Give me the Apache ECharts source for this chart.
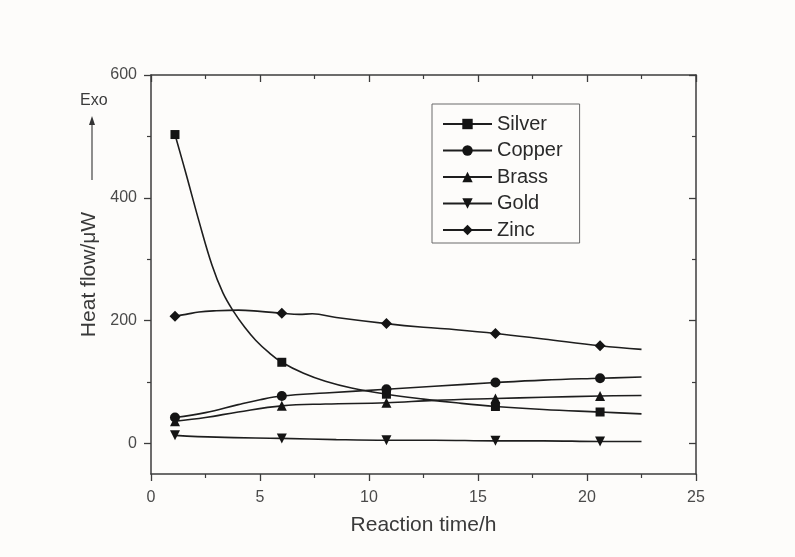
<!DOCTYPE html>
<html>
<head>
<meta charset="utf-8">
<script src="https://cdn.jsdelivr.net/npm/echarts@6/dist/echarts.min.js"></script>
<style>
html,body{margin:0;padding:0;background:#fdfcfa;}
#main{width:795px;height:557px;}
</style>
</head>
<body>
<div id="main"></div>
<script>
// ---- data ----
var markerTimes = [1.1, 6.0, 10.8, 15.8, 20.6];
var silver = [[1.1,503],[1.6,440],[2.2,362],[2.8,290],[3.3,245],[3.8,214],[4.3,189],[4.8,168],[5.4,148],[6.0,132],[7.0,114],[8.0,101],[9.2,90],[10.8,80],[12.5,72],[14,66],[15.8,60],[18,55],[20.6,51],[22.5,48]];
var copper = [[1.1,42],[2.5,50],[4,63],[5,71],[6.0,77],[8,82],[10.8,88],[13,93],[15.8,99],[18,103],[20.6,106],[22.5,108]];
var brass  = [[1.1,36],[2.5,42],[4,51],[6.0,61],[8,64],[10.8,66],[13,70],[15.8,73],[18,75],[20.6,77],[22.5,78]];
var gold   = [[1.1,13],[3,10],[6.0,8],[8.5,6],[10.8,5],[13,5],[15.8,4],[18,4],[20.6,3],[22.5,3]];
var zinc   = [[1.1,207],[1.6,210],[2.2,214],[3.0,216],[4.0,217],[5.0,215],[6.0,212],[6.8,210],[7.4,211],[8.5,205],[10.8,195],[12.5,189],[14,185],[15.8,179],[18,170],[20.6,159],[22.5,153]];
var seriesNames = ['Silver','Copper','Brass','Gold','Zinc'];
var yMajorTicks = [0, 200, 400, 600];
var yMinorTicks = [100, 300, 500];

var symbols = ['rect','circle','triangle','path://M0,0 L10,0 L5,10 Z','diamond'];
var symbolSizes = [9, 10, 10, 10, 11];
var datasets = [silver, copper, brass, gold, zinc];

function build(d){
  return d.map(function(p){
    var isMarker = markerTimes.indexOf(p[0]) >= 0;
    return isMarker ? {value:p} : {value:p, symbol:'none'};
  });
}

var axisColor = '#3c3c3c';
var font = '"Liberation Sans", Arial, sans-serif';
var gridRect = {left:151, right:99, top:75, bottom:83};

var series = seriesNames.map(function(n,i){
  return {
    name:n, type:'line', xAxisIndex:0, yAxisIndex:0,
    data: build(datasets[i]),
    smooth: 0.4,
    symbol: symbols[i], symbolSize: symbolSizes[i], symbolKeepAspect:true,
    showAllSymbol:true,
    lineStyle:{color:'#1e1e1e', width:1.6},
    itemStyle:{color:'#141414'},
    emphasis:{disabled:true},
    z: 3
  };
});

var chart = echarts.init(document.getElementById('main'), null, {renderer:'canvas'});
chart.setOption({
  backgroundColor:'#fdfcfa',
  animation:false,
  textStyle:{fontFamily:font},
  grid:[
    Object.assign({}, gridRect),
    Object.assign({}, gridRect),
    Object.assign({}, gridRect)
  ],
  legend:{
    data: seriesNames,
    orient:'vertical',
    left:432, top:104,
    itemWidth:49, itemHeight:13,
    itemGap:6.5,
    padding:[10,17,3,10],
    borderColor:'#6a6a6a', borderWidth:1,
    textStyle:{fontSize:20, color:'#2a2a2a', fontFamily:font, padding:[0,0,0,0]},
    selectedMode:false
  },
  xAxis:[
    {gridIndex:0, type:'value', min:0, max:25, interval:5, position:'bottom',
     name:'Reaction time/h', nameLocation:'middle', nameGap:41,
     nameTextStyle:{fontSize:21, color:'#3a3a3a', fontFamily:font},
     axisLine:{show:true, onZero:false, lineStyle:{color:axisColor, width:1.5}},
     axisTick:{show:true, inside:false, length:7, lineStyle:{color:axisColor, width:1.3}},
     minorTick:{show:true, splitNumber:2, length:4, lineStyle:{color:axisColor, width:1.2}},
     axisLabel:{fontSize:16, color:'#4a4a4a', margin:16, fontFamily:font},
     splitLine:{show:false}},
    {gridIndex:1, type:'value', min:0, max:25, interval:5, position:'top',
     axisLine:{show:true, onZero:false, lineStyle:{color:axisColor, width:1.5}},
     axisTick:{show:true, inside:true, length:7, lineStyle:{color:axisColor, width:1.3}},
     minorTick:{show:true, splitNumber:2, length:4, lineStyle:{color:axisColor, width:1.2}},
     axisLabel:{show:false}, splitLine:{show:false}},
    {gridIndex:2, type:'value', min:0, max:25, show:false}
  ],
  yAxis:[
    {gridIndex:0, type:'value', min:-50, max:600, position:'left',
     name:'Heat flow/μW', nameLocation:'middle', nameGap:48, nameRotate:90,
     nameTextStyle:{fontSize:21, color:'#3a3a3a', fontFamily:font},
     axisLine:{show:true, onZero:false, lineStyle:{color:axisColor, width:1.5}},
     axisTick:{show:true, inside:false, length:7, customValues:yMajorTicks, lineStyle:{color:axisColor, width:1.3}},
     axisLabel:{fontSize:16, color:'#4a4a4a', margin:14, customValues:yMajorTicks, fontFamily:font},
     splitLine:{show:false}},
    {gridIndex:1, type:'value', min:-50, max:600, position:'right',
     axisLine:{show:true, onZero:false, lineStyle:{color:axisColor, width:1.5}},
     axisTick:{show:true, inside:true, length:7, customValues:yMajorTicks, lineStyle:{color:axisColor, width:1.3}},
     axisLabel:{show:false}, splitLine:{show:false}},
    {gridIndex:2, type:'value', min:-50, max:600, position:'left',
     axisLine:{show:false},
     axisTick:{show:true, inside:false, length:4, customValues:yMinorTicks, lineStyle:{color:axisColor, width:1.2}},
     axisLabel:{show:false}, splitLine:{show:false}},
    {gridIndex:2, type:'value', min:-50, max:600, position:'right',
     axisLine:{show:false},
     axisTick:{show:true, inside:true, length:4, customValues:yMinorTicks, lineStyle:{color:axisColor, width:1.2}},
     axisLabel:{show:false}, splitLine:{show:false}}
  ],
  graphic:[
    {type:'text', left:80, top:93, style:{text:'Exo', fontSize:16, fill:'#3a3a3a', fontFamily:font}},
    {type:'line', shape:{x1:92, y1:180, x2:92, y2:124}, style:{stroke:'#444', lineWidth:1.2}},
    {type:'polygon', shape:{points:[[92,116],[89,125],[95,125]]}, style:{fill:'#333'}}
  ],
  series: series
});
</script>
</body>
</html>
